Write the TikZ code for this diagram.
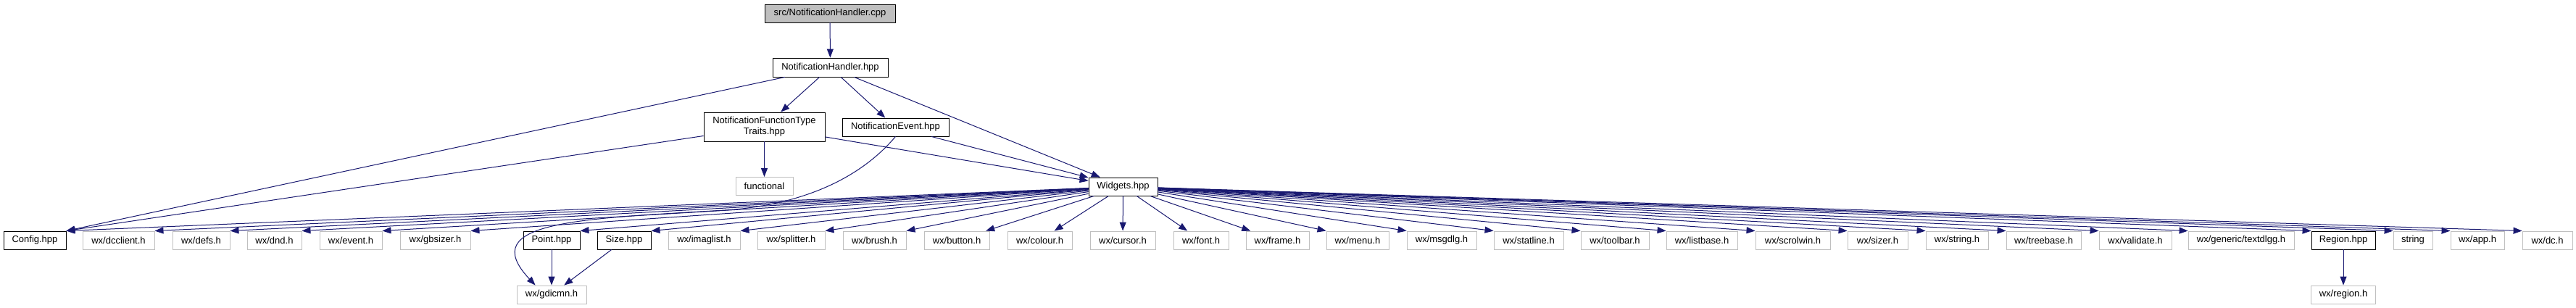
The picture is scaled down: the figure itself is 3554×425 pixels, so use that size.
\documentclass[tikz,border=0pt]{standalone}
\usepackage{fontspec}
\setmainfont{Liberation Sans}
\usetikzlibrary{arrows.meta}
\definecolor{edgeblue}{HTML}{191970}
\definecolor{extgray}{HTML}{BFBFBF}

\begin{document}
\begin{tikzpicture}[x=1pt,y=-1pt,
    box/.style={line width=0.9pt,fill=white,inner sep=0pt,minimum height=25pt,
        font=\fontsize{13}{15}\selectfont},
    hdr/.style={box,draw=black},
    ext/.style={box,draw=extgray},
    dep/.style={draw=edgeblue,line width=1pt,-{Triangle[length=12pt,width=9pt]}}]
\useasboundingbox (0,0) rectangle (3554,425);

% project files
\node[hdr,fill=extgray,minimum width=180pt] (cpp) at (1145,18.5) {src/NotificationHandler.cpp};
\node[hdr,minimum width=159pt,minimum height=26pt] (nh) at (1145.5,93) {NotificationHandler.hpp};
\node[hdr,minimum width=167pt,minimum height=40pt,align=center] (nftt) at (1054.5,175) {NotificationFunctionType\\Traits.hpp};
\node[hdr,minimum width=147pt] (ne) at (1235.5,175.5) {NotificationEvent.hpp};
\node[ext,minimum width=79pt] (functional) at (1054.5,257) {functional};
\node[hdr,minimum width=95pt] (widgets) at (1549.5,257.5) {Widgets.hpp};

% bottom row
\node[hdr,minimum width=86pt] (config) at (48,331.5) {Config.hpp};
\node[hdr,minimum width=78pt] (point) at (761,331.5) {Point.hpp};
\node[hdr,minimum width=74pt] (size) at (861,331.5) {Size.hpp};
\node[hdr,minimum width=88pt] (region) at (3233,331.5) {Region.hpp};
\foreach \n/\x/\w in {dcclient/163.5/99, defs/277.5/79, dnd/378.5/75, event/484/86,
    gbsizer/600.5/97, imaglist/971.5/99, splitter/1091.5/93, brush/1206.5/87,
    button/1320/90, colour/1434.5/89, cursor/1549/90, font/1657/76, frame/1762.5/87,
    menu/1873/86, msgdlg/1989/96, statline/2109/96, toolbar/2228/94, listbase/2348/98,
    scrolwin/2473.5/103, sizer/2590.5/83, string/2700/86, treebase/2819.5/103,
    validate/2946/100, app/3418/74, dc/3514.5/69}
  \node[ext,minimum width=\w pt] (\n h) at (\x,331.5) {wx/\n.h};
\node[ext,minimum width=146pt] (textdlggh) at (3092,331.5) {wx/generic/textdlgg.h};
\node[ext,minimum width=54pt] (stdstring) at (3329,331.5) {string};

% last row
\node[ext,minimum width=96pt] (gdicmnh) at (761,406.5) {wx/gdicmn.h};
\node[ext,minimum width=89pt] (regionh) at (3233,406.5) {wx/region.h};

% includes
\draw[dep] (cpp) -- (nh);
\draw[dep] (nh) -- (config.north east);
\draw[dep] (nh) -- (nftt);
\draw[dep] (nh) -- (ne);
\draw[dep] (nh) -- (widgets);
\draw[dep] (nftt) -- (config.north east);
\draw[dep] (nftt) -- (functional);
\draw[dep] (nftt) -- (widgets);
\draw[dep] (ne) -- (widgets);
\draw[dep] (ne.south) .. controls (1175,260) and (1080,285) .. (1000,290)
    .. controls (800,302) and (655,305) .. (gdicmnh.150);
\foreach \n in {config,dcclienth,defsh,dndh,eventh,gbsizerh,point,size,imaglisth,splitterh,brushh}
  \draw[dep] (widgets) -- (\n.north east);
\foreach \n in {buttonh,colourh,cursorh,fonth,frameh}
  \draw[dep] (widgets) -- (\n);
\foreach \n in {menuh,msgdlgh,statlineh,toolbarh,listbaseh,scrolwinh,sizerh,stringh,
    treebaseh,validateh,textdlggh,region,stdstring,apph,dch}
  \draw[dep] (widgets) -- (\n.north west);
\draw[dep] (point) -- (gdicmnh);
\draw[dep] (size) -- (gdicmnh);
\draw[dep] (region) -- (regionh);
\end{tikzpicture}
\end{document}
